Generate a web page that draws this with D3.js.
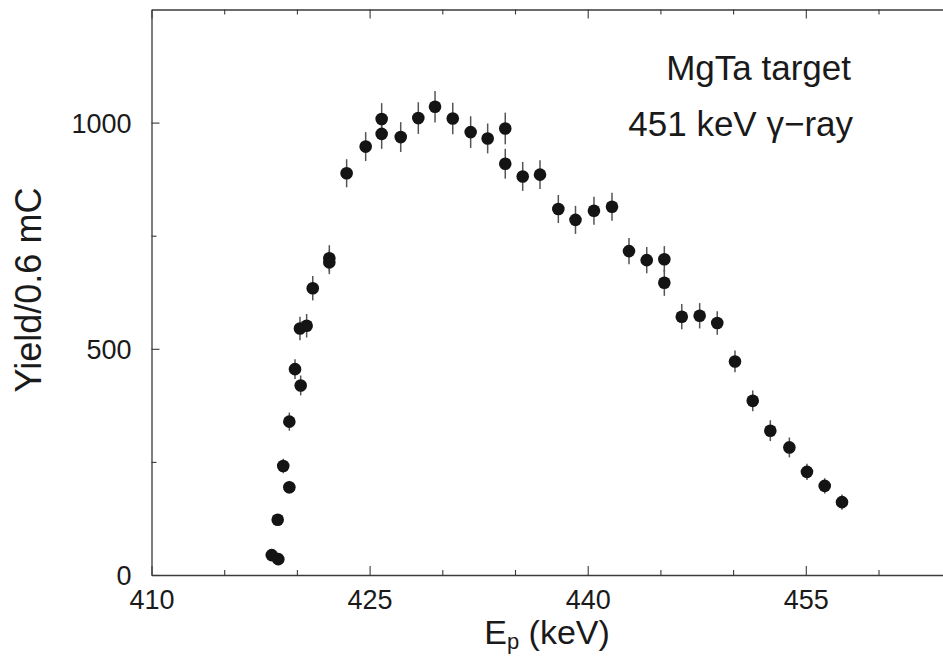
<!DOCTYPE html>
<html>
<head>
<meta charset="utf-8">
<script src="https://cdn.jsdelivr.net/npm/d3@7"></script>
<style>
  html, body { margin: 0; padding: 0; background: #fff; }
  svg { display: block; }
  text { font-family: "Liberation Sans", Arial, Helvetica, sans-serif; fill: #1a1a1a; }
</style>
</head>
<body>
<svg id="chart" width="943" height="656"></svg>
<script>
// ---- data ----
const energy = [418.27, 418.72, 418.68, 419.06, 419.48, 419.48, 419.87, 420.26, 420.21, 420.67,
                421.09, 422.23, 422.23, 423.42, 424.73, 425.83, 425.83, 427.14, 428.35, 429.50,
                430.72, 431.95, 433.12, 434.33, 434.33, 435.53, 436.72, 437.98, 439.16, 440.43,
                441.67, 442.84, 444.06, 445.27, 445.27, 446.47, 447.70, 448.91, 450.13, 451.35,
                452.56, 453.87, 455.08, 456.30, 457.49];
const yieldVals = [44, 35, 122, 241, 194, 339, 455, 419, 545, 551,
                   634, 700, 691, 888, 947, 1008, 975, 968, 1010, 1035,
                   1009, 979, 965, 987, 909, 881, 885, 809, 785, 805,
                   814, 716, 696, 698, 646, 571, 573, 557, 472, 385,
                   319, 282, 228, 197, 161];
const yieldErr = [8, 8, 11, 16, 14, 20, 22, 22, 26, 26,
                  27, 29, 26, 31, 32, 35, 33, 33, 35, 35,
                  35, 35, 33, 35, 33, 32, 32, 31, 31, 31,
                  31, 29, 29, 29, 29, 28, 28, 26, 24, 23,
                  23, 22, 18, 17, 17];
const xMajorTicks = [410, 425, 440, 455];
const xMinorTicks = [415, 420, 430, 435, 445, 450, 460];
const yMajorTicks = [0, 500, 1000];
const yMinorTicks = [250, 750];
const xTitle = "E";
const xTitleSub = "p";
const xTitleRest = " (keV)";
const yTitle = "Yield/0.6 mC";
const annotations = ["MgTa target", "451 keV \u03B3\u2212ray"];

// ---- layout ----
const svg = d3.select("#chart");
const plotLeft = 151.5, plotBottom = 575, plotTop = 9.5;
const x = d3.scaleLinear().domain([410, 465]).range([plotLeft, plotLeft + 55 * 14.54]);
const y = d3.scaleLinear().domain([0, 1250]).range([plotBottom, plotTop]);
const frameColor = "#3a3a3a";

function styleAxis(g) {
  g.select(".domain").attr("stroke", frameColor).attr("stroke-width", 1.3);
  g.selectAll(".tick line").attr("stroke", frameColor).attr("stroke-width", 1.1);
  g.selectAll(".tick text").attr("font-size", 27).attr("fill", "#1a1a1a")
    .attr("font-family", "'Liberation Sans', Arial, sans-serif");
}

// bottom axis
const gB = svg.append("g").attr("transform", `translate(0,${plotBottom})`);
gB.call(d3.axisBottom(x).tickValues(xMajorTicks).tickSizeInner(-9).tickSizeOuter(0)
  .tickPadding(16).tickFormat(d3.format("d")));
styleAxis(gB);
gB.selectAll(".tick text").attr("dy", 0).attr("y", 34);
const gBm = svg.append("g").attr("transform", `translate(0,${plotBottom})`);
gBm.call(d3.axisBottom(x).tickValues(xMinorTicks).tickSizeInner(-5).tickSizeOuter(0).tickFormat(""));
styleAxis(gBm);
gBm.select(".domain").remove();

// top axis
const gT = svg.append("g").attr("transform", `translate(0,${plotTop})`);
gT.call(d3.axisTop(x).tickValues(xMajorTicks).tickSizeInner(-9).tickSizeOuter(0).tickFormat(""));
styleAxis(gT);
const gTm = svg.append("g").attr("transform", `translate(0,${plotTop})`);
gTm.call(d3.axisTop(x).tickValues(xMinorTicks).tickSizeInner(-5).tickSizeOuter(0).tickFormat(""));
styleAxis(gTm);
gTm.select(".domain").remove();

// left axis
const gL = svg.append("g").attr("transform", `translate(${plotLeft},0)`);
gL.call(d3.axisLeft(y).tickValues(yMajorTicks).tickSizeInner(-8).tickSizeOuter(0)
  .tickPadding(20).tickFormat(d3.format("d")));
styleAxis(gL);
gL.selectAll(".tick text").attr("dy", "0.36em");
const gLm = svg.append("g").attr("transform", `translate(${plotLeft},0)`);
gLm.call(d3.axisLeft(y).tickValues(yMinorTicks).tickSizeInner(-5).tickSizeOuter(0).tickFormat(""));
styleAxis(gLm);
gLm.select(".domain").remove();

// right axis (frame edge, mostly off-canvas)
const gR = svg.append("g").attr("transform", `translate(${x(465)},0)`);
gR.call(d3.axisRight(y).tickValues(yMajorTicks).tickSizeInner(-8).tickSizeOuter(0).tickFormat(""));
styleAxis(gR);

// data
const data = energy.map((e, i) => ({ e, v: yieldVals[i], err: yieldErr[i] }));
const plot = svg.append("g");
plot.selectAll("line.err").data(data).enter().append("line")
  .attr("class", "err")
  .attr("x1", d => x(d.e)).attr("x2", d => x(d.e))
  .attr("y1", d => y(d.v - d.err)).attr("y2", d => y(d.v + d.err))
  .attr("stroke", "#555").attr("stroke-width", 1.5);
plot.selectAll("circle").data(data).enter().append("circle")
  .attr("cx", d => x(d.e)).attr("cy", d => y(d.v)).attr("r", 6.3)
  .attr("fill", "#141414");

// axis titles
const xt = svg.append("text").attr("x", 547).attr("y", 644)
  .attr("text-anchor", "middle").attr("font-size", 34);
xt.append("tspan").text(xTitle);
xt.append("tspan").text(xTitleSub).attr("font-size", 22).attr("dy", 5);
xt.append("tspan").text(xTitleRest).attr("dy", -5);

svg.append("text").attr("transform", "translate(41,290) rotate(-90)")
  .attr("text-anchor", "middle").attr("font-size", 36).text(yTitle);

// annotations
svg.append("text").attr("x", 851).attr("y", 80).attr("text-anchor", "end")
  .attr("font-size", 35).text(annotations[0]);
svg.append("text").attr("x", 853).attr("y", 136).attr("text-anchor", "end")
  .attr("font-size", 35).text(annotations[1]);
</script>
</body>
</html>
